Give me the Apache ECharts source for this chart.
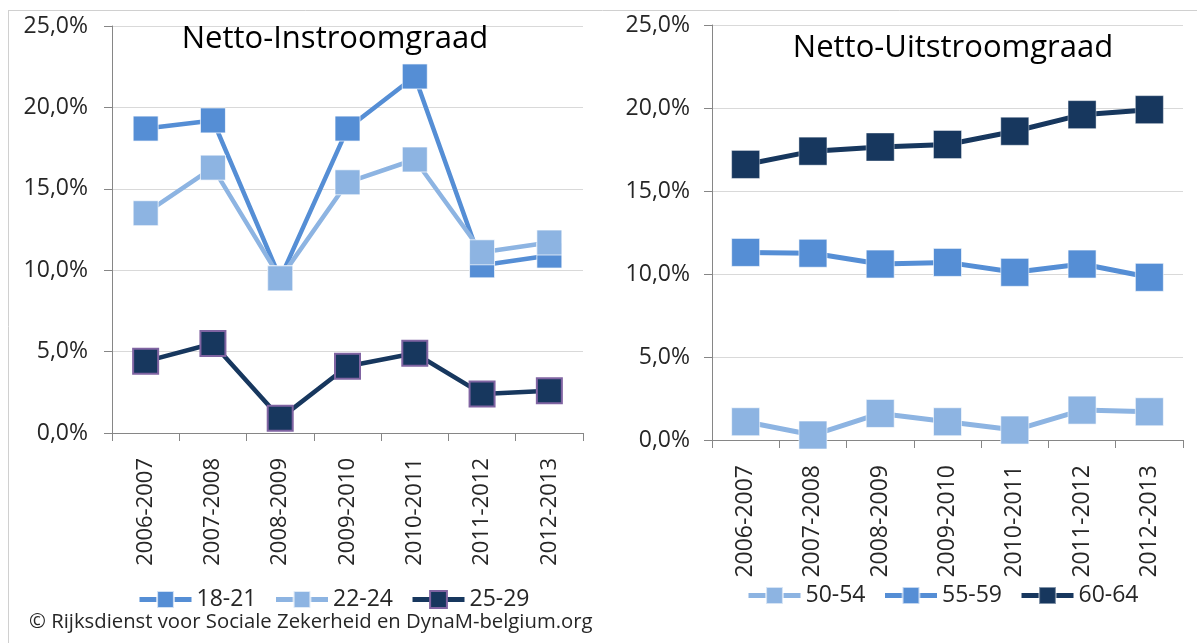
<!DOCTYPE html>
<html>
<head>
<meta charset="utf-8">
<script src="https://cdn.jsdelivr.net/npm/echarts@6/dist/echarts.min.js"></script>
<style>
  html, body { margin: 0; padding: 0; background: #fff; }
  #chart { width: 1197px; height: 643px; }
</style>
</head>
<body>
<div id="chart"></div>
<script>
// school years (x axis), shared by both panels
const years = ['2006-2007', '2007-2008', '2008-2009', '2009-2010', '2010-2011', '2011-2012', '2012-2013']

// netto-instroomgraad (%), left panel
const in1821 = [18.7, 19.2, 9.5, 18.7, 21.9, 10.3, 10.9]
const in2224 = [13.5, 16.3, 9.5, 15.4, 16.8, 11.1, 11.7]
const in2529 = [4.4, 5.5, 0.9, 4.1, 4.9, 2.4, 2.6]

// netto-uitstroomgraad (%), right panel
const out5054 = [1.1, 0.3, 1.6, 1.1, 0.6, 1.8, 1.7]
const out5559 = [11.3, 11.25, 10.6, 10.7, 10.1, 10.6, 9.8]
const out6064 = [16.6, 17.4, 17.65, 17.8, 18.6, 19.6, 19.9]

const FONT = 'Open Sans'
const mid = '#558ED5'
const light = '#8DB4E2'
const dark = '#17375E'

const chart = echarts.init(document.getElementById('chart'))

function pct(v) {
  return v.toFixed(1).replace('.', ',') + '%'
}

function xAxis(gridIndex, size) {
  return {
    type: 'category',
    gridIndex: gridIndex,
    data: years,
    boundaryGap: true,
    axisLine: { lineStyle: { color: '#868686', width: 1 } },
    axisTick: { show: true, length: 8, lineStyle: { color: '#868686' } },
    axisLabel: { rotate: 90, margin: 25, fontSize: size, color: '#262626', fontFamily: FONT, interval: 0 }
  }
}

function yAxis(gridIndex, margin) {
  return {
    type: 'value',
    gridIndex: gridIndex,
    min: 0,
    max: 25,
    interval: 5,
    axisLine: { show: true, lineStyle: { color: '#868686', width: 1 } },
    axisTick: { show: true, inside: false, length: 8, lineStyle: { color: '#868686' } },
    axisLabel: { formatter: pct, fontSize: 23, color: '#262626', fontFamily: FONT, margin: margin },
    splitLine: { lineStyle: { color: '#D9D9D9', width: 1 } }
  }
}

function serie(name, data, idx, color, size, lineWidth, border, borderWidth) {
  return {
    name: name,
    type: 'line',
    xAxisIndex: idx,
    yAxisIndex: idx,
    data: data,
    symbol: 'rect',
    symbolSize: size,
    showAllSymbol: true,
    lineStyle: { color: color, width: lineWidth },
    itemStyle: { color: color, borderColor: border, borderWidth: borderWidth },
    animation: false
  }
}

const legendText = { fontSize: 23, color: '#262626', fontFamily: FONT }

chart.setOption({
  backgroundColor: '#fff',
  title: [
    { text: 'Netto-Instroomgraad', left: 330, top: 19, textAlign: 'center',
      textStyle: { fontSize: 31, fontWeight: 'normal', color: '#000', fontFamily: FONT } },
    { text: 'Netto-Uitstroomgraad', left: 948, top: 28, textAlign: 'center',
      textStyle: { fontSize: 31, fontWeight: 'normal', color: '#000', fontFamily: FONT } }
  ],
  grid: [
    { left: 112, top: 26, width: 471, height: 407 },
    { left: 712, top: 25, width: 471, height: 415 }
  ],
  xAxis: [xAxis(0, 22), xAxis(1, 23)],
  yAxis: [yAxis(0, 24), yAxis(1, 22)],
  legend: [
    { data: ['18-21', '22-24', '25-29'], left: 132, top: 583, itemWidth: 52, itemHeight: 21,
      itemGap: 17, textStyle: legendText, lineStyle: { width: 5 } },
    { data: ['50-54', '55-59', '60-64'], left: 741, top: 579, itemWidth: 52, itemHeight: 21,
      itemGap: 17, textStyle: legendText, lineStyle: { width: 5 } }
  ],
  graphic: [
    { type: 'line', shape: { x1: 8, y1: 10.5, x2: 1197, y2: 10.5 }, style: { stroke: '#D0D0D0', lineWidth: 1 } },
    { type: 'line', shape: { x1: 8.5, y1: 10, x2: 8.5, y2: 643 }, style: { stroke: '#D0D0D0', lineWidth: 1 } },
    { type: 'text', left: 29, top: 612,
      style: { text: '© Rijksdienst voor Sociale Zekerheid en DynaM-belgium.org', fontSize: 20.3, fill: '#262626', fontFamily: FONT } }
  ],
  series: [
    serie('18-21', in1821, 0, mid, 25, 4.5, 'rgba(255,255,255,0.7)', 1),
    serie('22-24', in2224, 0, light, 25, 4.5, 'rgba(255,255,255,0.7)', 1),
    serie('25-29', in2529, 0, dark, 25, 4.5, '#8064A2', 2),
    serie('50-54', out5054, 1, light, 28, 5, 'rgba(255,255,255,0.6)', 1),
    serie('55-59', out5559, 1, mid, 28, 5, 'rgba(255,255,255,0.6)', 1),
    serie('60-64', out6064, 1, dark, 28, 5, 'rgba(255,255,255,0.4)', 1)
  ]
})
</script>
</body>
</html>
